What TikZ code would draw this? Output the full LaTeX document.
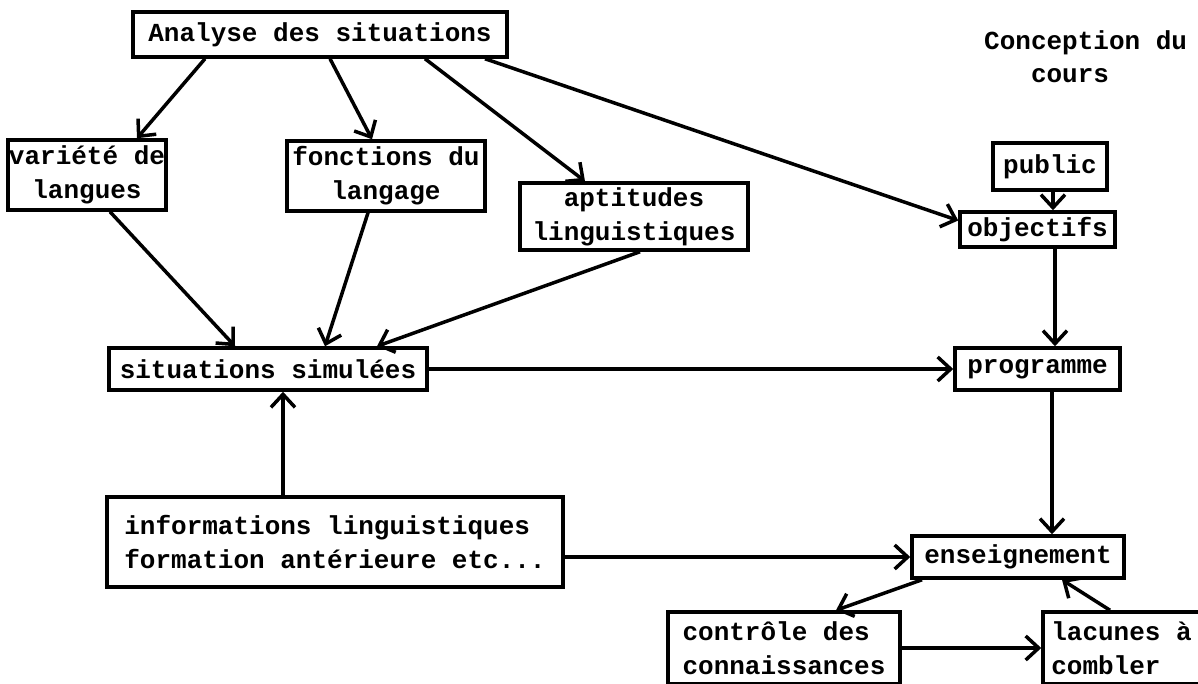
\documentclass[tikz,border=0pt]{standalone}
\usepackage{fontspec}
\setmonofont{Liberation Mono}
\usetikzlibrary{arrows.meta}
\begin{document}
\begin{tikzpicture}[x=1pt,y=-1pt,
  box/.style={draw=black,line width=3.5pt,inner sep=0pt,rectangle,
    font=\ttfamily\bfseries\fontsize{26}{34}\selectfont},
  lbl/.style={inner sep=0pt,font=\ttfamily\bfseries\fontsize{26}{33}\selectfont},
  arr/.style={line width=3.5pt,-{Straight Barb[length=13pt,width=24pt,line width=3.5pt]}}]
\useasboundingbox (0,0) rectangle (1198,684);
\node[box,minimum width=374,minimum height=45] (ana) at (320,34.5) {Analyse des situations};
\node[box,minimum width=158,minimum height=70,align=center] (var) at (87,175) {variété de\\langues};
\node[box,minimum width=198,minimum height=70,align=center] (fon) at (386,176) {fonctions du\\langage};
\node[box,minimum width=228,minimum height=67,align=center] (apt) at (634,216.5) {aptitudes\\linguistiques};
\node[box,minimum width=318,minimum height=42] (sim) at (268,369) {situations simulées};
\node[box,minimum width=456,minimum height=90,align=left] (inf) at (335,542) {informations linguistiques\\formation antérieure etc...};
\node[lbl,align=left,anchor=west] (conc) at (984,56.5) {Conception du\\\hspace*{46.8pt}cours};
\node[box,minimum width=114,minimum height=47] (pub) at (1050,166.5) {public};
\node[box,minimum width=155,minimum height=35] (obj) at (1037.5,229.5) {objectifs};
\node[box,minimum width=165,minimum height=42] (pro) at (1037.5,369) {programme};
\node[box,minimum width=212,minimum height=42] (ens) at (1018,557) {enseignement};
\node[box,minimum width=232,minimum height=72,align=left] (con) at (784,648) {contrôle des\\connaissances};
\node[box,minimum width=157,minimum height=72,align=left] (lac) at (1121.5,648) {lacunes à\\combler};
\draw[arr] ([xshift=-115]ana.south) -- ([xshift=50]var.north);
\draw[arr] ([xshift=10]ana.south) -- ([xshift=-14]fon.north);
\draw[arr] ([xshift=105]ana.south) -- ([xshift=-49]apt.north);
\draw[arr] ([xshift=165]ana.south) -- ([yshift=9]obj.west);
\draw[arr] ([xshift=23]var.south) -- ([xshift=-33]sim.north);
\draw[arr] ([xshift=-18]fon.south) -- ([xshift=57]sim.north);
\draw[arr] ([xshift=6]apt.south) -- ([xshift=109]sim.north);
\draw[arr] (sim.east) -- (pro.west);
\draw[arr] ([xshift=-52]inf.north) -- ([xshift=15]sim.south);
\draw[arr] (ens.west -| inf.east) -- (ens.west);
\draw[arr] ([xshift=3]pub.south) -- ([xshift=3]pub.south |- obj.north);
\draw[arr] ([xshift=17.5]obj.south) -- ([xshift=17.5]obj.south |- pro.north);
\draw[arr] ([xshift=14.5]pro.south) -- ([xshift=14.5]pro.south |- ens.north);
\draw[arr] ([xshift=-96]ens.south) -- ([xshift=52]con.north);
\draw[arr] (con.east) -- (lac.west);
\draw[arr] ([xshift=-11.5]lac.north) -- ([xshift=44]ens.south);
\end{tikzpicture}
\end{document}
